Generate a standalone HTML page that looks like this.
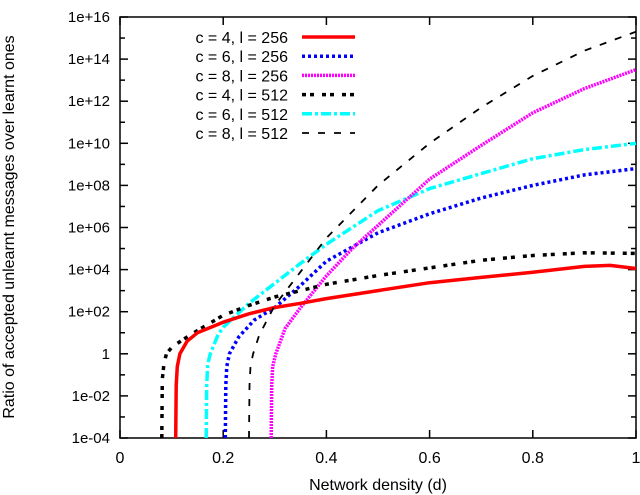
<!DOCTYPE html>
<html><head><meta charset="utf-8"><style>
body{margin:0;background:#fff;}
svg{display:block;font-family:"Liberation Sans",sans-serif;}
</style></head><body>
<svg id="chart" width="640" height="495"></svg>
<script>
const xTicks=[0,0.2,0.4,0.6,0.8,1];
const xTickLabels=["0","0.2","0.4","0.6","0.8","1"];
const yTicks=[-4,-2,0,2,4,6,8,10,12,14,16];
const yTickLabels=["1e-04","1e-02","1","1e+02","1e+04","1e+06","1e+08","1e+10","1e+12","1e+14","1e+16"];
const seriesNames=["c = 4, l = 256","c = 6, l = 256","c = 8, l = 256","c = 4, l = 512","c = 6, l = 512","c = 8, l = 512"];
const xRed=[0.108,0.109,0.111,0.116,0.13,0.15,0.2,0.25,0.3,0.35,0.4,0.5,0.6,0.7,0.8,0.9,0.95,1.0];
const yRed=[-4,-1.5,-0.6,0,0.6,1.0,1.5,1.9,2.2,2.4,2.62,3.0,3.38,3.63,3.87,4.15,4.2,4.05];
const xBlue=[0.204,0.205,0.207,0.212,0.23,0.26,0.3,0.35,0.4,0.5,0.6,0.7,0.8,0.9,1.0];
const yBlue=[-4,-1.5,-0.6,0,0.8,1.6,2.2,3.25,4.4,5.75,6.65,7.4,8.0,8.5,8.8];
const xMag=[0.293,0.294,0.296,0.302,0.32,0.35,0.4,0.45,0.5,0.6,0.7,0.8,0.9,1.0];
const yMag=[-4,-1.5,-0.6,0,1.2,2.2,3.7,5.0,6.1,8.3,9.9,11.45,12.6,13.5];
const xBlk=[0.081,0.082,0.085,0.09,0.1,0.12,0.15,0.2,0.25,0.3,0.35,0.4,0.5,0.6,0.7,0.8,0.9,1.0];
const yBlk=[-4,-1.2,-0.5,0,0.3,0.64,1.1,1.83,2.3,2.7,3.0,3.3,3.72,4.08,4.44,4.67,4.8,4.77];
const xCyan=[0.167,0.168,0.17,0.175,0.19,0.2,0.25,0.3,0.35,0.4,0.5,0.6,0.7,0.8,0.9,1.0];
const yCyan=[-4,-1.5,-0.5,0,0.9,1.26,2.4,3.35,4.3,5.2,6.8,7.85,8.56,9.27,9.7,10.0];
const xDash=[0.25,0.251,0.253,0.258,0.27,0.3,0.35,0.4,0.5,0.6,0.7,0.8,0.9,1.0];
const yDash=[-4,-1.5,-0.6,0,0.9,2.3,3.9,5.5,8.0,10.0,11.7,13.2,14.4,15.3];
const NS="http://www.w3.org/2000/svg";
const svg=document.getElementById('chart');
const X0=120,X1=636,Y0=438,Y1=17;
function sx(v){return X0+(X1-X0)*v;}
function sy(v){return Y0-(Y0-Y1)*(v+4)/20;}
function mk(tag,attrs,parent){const e=document.createElementNS(NS,tag);for(const k in attrs)e.setAttribute(k,attrs[k]);(parent||svg).appendChild(e);return e;}
const frame=mk('rect',{x:X0,y:Y1,width:X1-X0,height:Y0-Y1,fill:'none',stroke:'#000','stroke-width':1.5});


xTicks.forEach((t,i)=>{
  const x=sx(t);
  mk('line',{x1:x,y1:Y0,x2:x,y2:Y0-8,stroke:'#000','stroke-width':1.5});
  mk('line',{x1:x,y1:Y1,x2:x,y2:Y1+8,stroke:'#000','stroke-width':1.5});
  const tx=mk('text',{x:x,y:Y0+25,'text-anchor':'middle','font-size':16});
  tx.textContent=xTickLabels[i];
  
  
});
for(let d=-4;d<=16;d++){
  const y=sy(d);const len=(d%2===0)?8:5;
  mk('line',{x1:X0,y1:y,x2:X0+len,y2:y,stroke:'#000','stroke-width':1.5});
  mk('line',{x1:X1,y1:y,x2:X1-len,y2:y,stroke:'#000','stroke-width':1.5});
}
yTicks.forEach((t,i)=>{
  const tx=mk('text',{x:X0-10,y:sy(t)+5,'text-anchor':'end','font-size':15});
  tx.textContent=yTickLabels[i];
  
  
});
const xl=mk('text',{x:378,y:490,'text-anchor':'middle','font-size':16});
xl.textContent='Network density (d)';


const yl=mk('text',{x:0,y:0,'text-anchor':'middle','font-size':16,transform:'translate(14,227) rotate(-90)'});
yl.textContent='Ratio of accepted unlearnt messages over learnt ones';


const styles=[
 {c:'#ff0000',w:3.5,d:'',n:'series-c4-l256'},
 {c:'#0000ff',w:3.5,d:'3,3',n:'series-c6-l256'},
 {c:'#ff00ff',w:3.5,d:'2,1',n:'series-c8-l256'},
 {c:'#000000',w:3.5,d:'4,4,4,8',n:'series-c4-l512'},
 {c:'#00ffff',w:3.5,d:'10,3,3,3',n:'series-c6-l512'},
 {c:'#000000',w:1.8,d:'7,9',n:'series-c8-l512'}];
const data=[[xRed,yRed],[xBlue,yBlue],[xMag,yMag],[xBlk,yBlk],[xCyan,yCyan],[xDash,yDash]];
const order=[4,1,2,3,0,5];
order.forEach(i=>{
  const [xs,ys]=data[i];const s=styles[i];
  const pts=xs.map((x,j)=>sx(x).toFixed(1)+','+sy(ys[j]).toFixed(1)).join(' ');
  const p=mk('polyline',{points:pts,fill:'none',stroke:s.c,'stroke-width':s.w,'stroke-dasharray':s.d,'stroke-linejoin':'round'});
  
  
});
seriesNames.forEach((nm,i)=>{
  const y=37+19.2*i;const s=styles[i];
  const g=mk('g',{});
  
  
  const t=mk('text',{x:288,y:y+6,'text-anchor':'end','font-size':16},g);
  t.textContent=nm;
  mk('line',{x1:302,y1:y,x2:355,y2:y,stroke:s.c,'stroke-width':s.w,'stroke-dasharray':s.d},g);
});
</script>
</body></html>
